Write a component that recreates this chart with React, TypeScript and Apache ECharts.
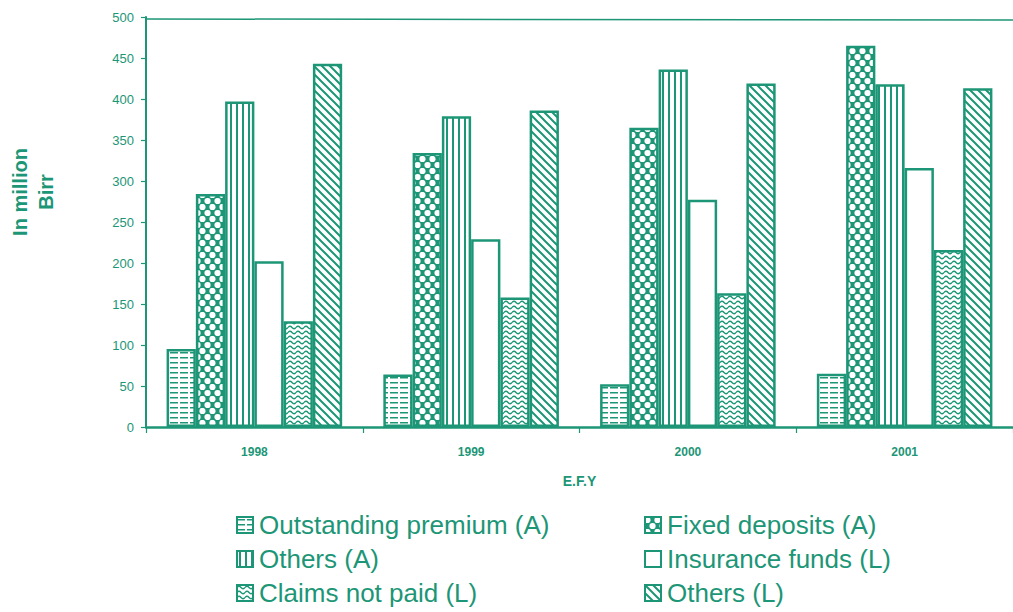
import React, { useEffect, useRef } from "react";
import * as echarts from "echarts";

const categories = ["1998", "1999", "2000", "2001"];
const seriesNames = [
  "Outstanding premium (A)",
  "Fixed deposits (A)",
  "Others (A)",
  "Insurance funds (L)",
  "Claims not paid (L)",
  "Others (L)",
];
const outstandingPremium = [95, 64, 52, 65];
const fixedDeposits = [284, 334, 365, 465];
const othersA = [397, 379, 436, 418];
const insuranceFunds = [202, 229, 277, 316];
const claimsNotPaid = [129, 158, 163, 216];
const othersL = [443, 386, 419, 413];
const yTicks = { min: 0, max: 500, interval: 50 };

const TEAL = "#1c9676";

function tile(w: number, h: number, bg: string, draw: (ctx: CanvasRenderingContext2D) => void) {
  const c = document.createElement("canvas");
  c.width = w;
  c.height = h;
  const ctx = c.getContext("2d") as CanvasRenderingContext2D;
  ctx.fillStyle = bg;
  ctx.fillRect(0, 0, w, h);
  ctx.fillStyle = TEAL;
  ctx.strokeStyle = TEAL;
  draw(ctx);
  return { image: c, repeat: "repeat", imageWidth: w, imageHeight: h } as any;
}

function makePatterns() {
  const hLines = tile(10, 5, "#fff", (ctx) => {
    ctx.fillRect(0, 2, 8, 1.5);
  });
  const dots = tile(10, 12, TEAL, (ctx) => {
    ctx.fillStyle = "#fff";
    const pts = [
      [2.5, 3],
      [7.5, 9],
      [12.5, 3],
      [-2.5, 9],
      [2.5, 15],
      [7.5, -3],
    ];
    for (const [x, y] of pts) {
      ctx.beginPath();
      ctx.arc(x, y, 3.1, 0, Math.PI * 2);
      ctx.fill();
    }
  });
  const vLines = tile(6, 4, "#fff", (ctx) => {
    ctx.fillRect(2, 0, 2, 4);
  });
  const plain = "#ffffff";
  const waves = tile(8, 5, "#fff", (ctx) => {
    ctx.lineWidth = 1.3;
    ctx.beginPath();
    ctx.moveTo(0, 2.5);
    ctx.quadraticCurveTo(2, 0, 4, 2.5);
    ctx.quadraticCurveTo(6, 5, 8, 2.5);
    ctx.stroke();
  });
  const diag = tile(8, 8, "#fff", (ctx) => {
    ctx.lineWidth = 2;
    ctx.beginPath();
    ctx.moveTo(-2, -2);
    ctx.lineTo(10, 10);
    ctx.moveTo(-2, 6);
    ctx.lineTo(2, 10);
    ctx.moveTo(6, -2);
    ctx.lineTo(10, 2);
    ctx.stroke();
  });
  return [hLines, dots, vLines, plain, waves, diag];
}

export default function App() {
  const ref = useRef<HTMLDivElement>(null);
  useEffect(() => {
    if (!ref.current) return;
    const chart = echarts.init(ref.current, null, { renderer: "svg" });
    const patterns = makePatterns();
    const values = [outstandingPremium, fixedDeposits, othersA, insuranceFunds, claimsNotPaid, othersL];
    const series = seriesNames.map((name, i) => ({
      name,
      type: "bar",
      data: values[i],
      barGap: "0%",
      barCategoryGap: "19%",
      itemStyle: { color: patterns[i], borderColor: TEAL, borderWidth: 2.5 },
      emphasis: { disabled: true },
    }));
    const legendText = {
      color: TEAL,
      fontSize: 26,
      fontFamily: "Liberation Sans, Arial, sans-serif",
      padding: [0, 0, 0, 1],
    };
    // legend grid: order row-major, 2 columns x 3 rows
    const legendLeft = [231, 639];
    const legendRowCenter = [522, 556, 590];
    const legends = seriesNames.map((name, i) => ({
      orient: "horizontal",
      left: legendLeft[i % 2],
      top: legendRowCenter[Math.floor(i / 2)] - 15,
      height: 30,
      itemWidth: 16,
      itemHeight: 16,
      icon: "rect",
      data: [name],
      textStyle: legendText,
      selectedMode: false,
    }));
    chart.setOption({
      animation: false,
      backgroundColor: "#fff",
      grid: { left: 146, top: 17, width: 870, height: 410 },
      xAxis: {
        type: "category",
        data: categories,
        name: "E.F.Y",
        nameLocation: "middle",
        nameGap: 47,
        nameTextStyle: { color: TEAL, fontSize: 14, fontWeight: "bold", fontFamily: "Liberation Sans, Arial" },
        axisLine: { lineStyle: { color: TEAL, width: 2.5 } },
        axisTick: { show: true, interval: 0, length: 6, lineStyle: { color: TEAL, width: 1.2 } },
        axisLabel: { color: TEAL, fontSize: 12, fontWeight: "bold", margin: 19, fontFamily: "Liberation Sans, Arial" },
      },
      yAxis: {
        type: "value",
        min: yTicks.min,
        max: yTicks.max,
        interval: yTicks.interval,
        axisLine: { show: true, lineStyle: { color: TEAL, width: 2 } },
        axisTick: { show: true, length: 5, lineStyle: { color: TEAL, width: 1.2 } },
        splitLine: { show: false },
        axisLabel: { color: TEAL, fontSize: 13, margin: 12, fontFamily: "Liberation Sans, Arial" },
      },
      legend: legends,
      graphic: [
        {
          type: "line",
          shape: { x1: 146, y1: 19, x2: 1013, y2: 20 },
          style: { stroke: TEAL, lineWidth: 1.5 },
        },
        {
          type: "text",
          x: 33,
          y: 192,
          rotation: Math.PI / 2,
          style: {
            text: "In million\nBirr",
            fill: TEAL,
            fontSize: 20,
            fontWeight: "bold",
            fontFamily: "Liberation Sans, Arial",
            align: "center",
            verticalAlign: "middle",
            lineHeight: 26,
          },
        },
      ],
      series,
    });
    return () => chart.dispose();
  }, []);
  return <div ref={ref} style={{ width: 1013, height: 612, position: "absolute", left: 0, top: 0 }} />;
}
